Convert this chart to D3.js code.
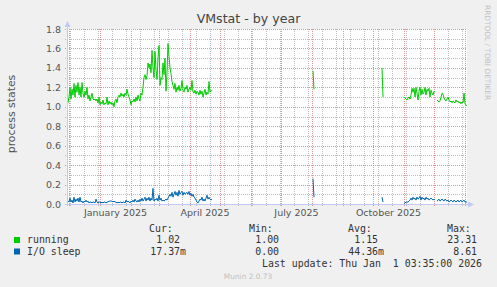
<!DOCTYPE html>
<html>
<head>
<meta charset="utf-8">
<script src="https://cdn.jsdelivr.net/npm/d3@7"></script>
<style>
body { margin: 0; background: #f0f0f0; }
svg { display: block; }
text { white-space: pre; }
</style>
</head>
<body>
<svg id="chart" width="497" height="287"></svg>
<script>
// time axis: 400 days, one value per day (day offset from axis start)
const startTime = Date.UTC(2024, 10, 29)
const DAY = 864e5
const spanDays = 400

// first block of data, one value per day starting at day 1
const firstDay = 1
const running1 = [
	1.04, 1.10, 1.20, 1.08, 1.18, 1.12, 1.24, 1.10, 1.22, 1.15,
	1.25, 1.12, 1.20, 1.10, 1.25, 1.14, 1.10, 1.16, 1.12, 1.20,
	1.08, 1.12, 1.06, 1.10, 1.14, 1.08, 1.07, 1.08, 1.06, 1.08,
	1.04, 1.10, 1.02, 1.05, 1.03, 1.07, 1.02, 1.04, 1.03, 1.10,
	1.02, 1.06, 1.03, 1.05, 1.02, 1.04, 1.00, 1.06, 1.08, 1.04,
	1.10, 1.12, 1.10, 1.14, 1.11, 1.13, 1.10, 1.14, 1.12, 1.18,
	1.13, 1.10, 1.07, 1.02, 1.06, 1.05, 1.08, 1.05, 1.10, 1.06,
	1.12, 1.08, 1.06, 1.14, 1.12, 1.20, 1.30, 1.33, 1.28, 1.32,
	1.45, 1.40, 1.44, 1.35, 1.58, 1.40, 1.30, 1.57, 1.38, 1.28,
	1.50, 1.63, 1.22, 1.30, 1.28, 1.45, 1.33, 1.50, 1.16, 1.35,
	1.65, 1.52, 1.40, 1.34, 1.26, 1.22, 1.18, 1.24, 1.15, 1.20,
	1.17, 1.22, 1.16, 1.19, 1.27, 1.17, 1.15, 1.20, 1.18, 1.22,
	1.15, 1.18, 1.20, 1.17, 1.27, 1.15, 1.14, 1.17, 1.13, 1.16,
	1.15, 1.12, 1.17, 1.13, 1.16, 1.10, 1.14, 1.18, 1.12, 1.15,
	1.13, 1.26, 1.15, 1.17, 1.16
]
const io1 = [
	0.03, 0.02, 0.06, 0.02, 0.04, 0.01, 0.07, 0.02, 0.05, 0.03,
	0.06, 0.02, 0.07, 0.02, 0.03, 0.01, 0.03, 0.02, 0.04, 0.02,
	0.03, 0.01, 0.02, 0.02, 0.01, 0.02, 0.02, 0.01, 0.05, 0.02,
	0.01, 0.02, 0.02, 0.01, 0.02, 0.01, 0.02, 0.02, 0.01, 0.02,
	0.02, 0.03, 0.03, 0.03, 0.03, 0.02, 0.03, 0.02, 0.02, 0.01,
	0.02, 0.01, 0.02, 0.02, 0.01, 0.02, 0.02, 0.01, 0.04, 0.02,
	0.03, 0.02, 0.01, 0.03, 0.02, 0.04, 0.02, 0.05, 0.03, 0.02,
	0.04, 0.02, 0.05, 0.03, 0.06, 0.03, 0.05, 0.07, 0.03, 0.06,
	0.04, 0.07, 0.03, 0.06, 0.04, 0.16, 0.03, 0.05, 0.04, 0.06,
	0.03, 0.09, 0.04, 0.06, 0.03, 0.04, 0.03, 0.04, 0.05, 0.04,
	0.06, 0.08, 0.10, 0.08, 0.12, 0.07, 0.10, 0.13, 0.09, 0.12,
	0.08, 0.14, 0.10, 0.12, 0.13, 0.09, 0.12, 0.10, 0.11, 0.12,
	0.10, 0.13, 0.09, 0.11, 0.08, 0.10, 0.07, 0.06, 0.04, 0.02,
	0.01, 0.03, 0.05, 0.04, 0.07, 0.03, 0.05, 0.03, 0.06, 0.09,
	0.05, 0.07, 0.05, 0.04, 0.05
]

// two short isolated bursts
const spikeDays = [[246, 247], [315, 316]]
const runningSpikes = [[1.37, 1.18], [1.40, 1.10]]
const ioSpikes = [[0.26, 0.07], [0.07, 0.02]]

// last block, one value per day, null = missing
const lastDay = 337
const running3 = [
	1.10, 1.09, 1.08, 1.07, 1.09, 1.10, 1.08, 1.12, 1.19, 1.15,
	1.19, 1.10, 1.20, 1.14, 1.07, 1.16, 1.20, 1.12, 1.18, 1.13,
	1.15, 1.20, 1.12, 1.18, 1.16, 1.19, 1.10, 1.17, 1.14, 1.12,
	1.16, 1.15, null, 1.07, 1.06, 1.05, 1.06, 1.10, 1.14, 1.13,
	1.09, 1.07, 1.06, 1.08, 1.10, 1.07, 1.05, 1.06, 1.04, 1.06,
	1.05, 1.04, 1.07, 1.05, 1.06, 1.04, 1.05, 1.03, 1.05, 1.04,
	1.14, 1.03, 1.02, 1.01
]
const io3 = [
	0.01, 0.01, 0.02, 0.02, 0.02, 0.03, 0.04, 0.06, 0.04, 0.07,
	0.05, 0.06, 0.04, 0.07, 0.05, 0.06, 0.08, 0.04, 0.07, 0.05,
	0.06, 0.04, 0.07, 0.05, 0.06, 0.04, 0.05, 0.06, 0.05, 0.04,
	0.05, 0.04, null, 0.03, 0.04, 0.05, 0.03, 0.04, 0.05, 0.04,
	0.03, 0.05, 0.04, 0.03, 0.04, 0.02, 0.03, 0.04, 0.03, 0.02,
	0.04, 0.03, 0.02, 0.03, 0.04, 0.02, 0.03, 0.04, 0.02, 0.03,
	0.04, 0.02, 0.02, 0.02
]

const yTicks = [0, 0.2, 0.4, 0.6, 0.8, 1.0, 1.2, 1.4, 1.6, 1.8]
const monthLabels = [[2025, 0], [2025, 3], [2025, 6], [2025, 9]]

const seriesNames = ["running", "I/O sleep"]
const seriesColors = ["#00cc00", "#0066b3"]
const curVals = [["1.02", " "], ["17.37", "m"]]
const minVals = [["1.00", " "], ["0.00", " "]]
const avgVals = [["1.15", " "], ["44.36", "m"]]
const maxVals = [["23.31", " "], ["8.61", " "]]

// build point lists with gaps between blocks
function series(block1, spikes, block3) {
	var pts = block1.map((v, i) => ({d: firstDay + i, v: v}))
	spikes.forEach((s, k) => {
		pts.push({d: spikeDays[k][0] - 1, v: null})
		s.forEach((v, j) => pts.push({d: spikeDays[k][j], v: v}))
	})
	pts.push({d: lastDay - 1, v: null})
	block3.forEach((v, i) => pts.push({d: lastDay + i, v: v}))
	return pts
}
var running = series(running1, runningSpikes, running3)
var iosleep = series(io1, ioSpikes, io3)

var svg = d3.select("#chart"),
	pL = 67, pR = 467, pT = 29, pB = 204

svg.append("rect").attr("width", 497).attr("height", 287).attr("fill", "#f0f0f0")
svg.append("rect")
	.attr("x", pL).attr("y", pT)
	.attr("width", pR - pL).attr("height", pB - pT)
	.attr("fill", "#ffffff")

var x = d3.scaleUtc()
	.domain([new Date(startTime), new Date(startTime + spanDays * DAY)])
	.range([pL, pR])
var y = d3.scaleLinear().domain([0, 1.8]).range([pB, pT])
var xd = d => x(new Date(startTime + d * DAY))

var grid = svg.append("g").attr("shape-rendering", "crispEdges")
var minorColor = "#bdbdbd", majorColor = "#e39393"

// minor grid
var minorY = d3.range(1, 18, 2).map(i => i / 10)
grid.selectAll(".hmin").data(minorY).enter().append("line")
	.attr("x1", pL - 2).attr("x2", pR)
	.attr("y1", d => Math.round(y(d)) + 0.5).attr("y2", d => Math.round(y(d)) + 0.5)
	.attr("stroke", minorColor).attr("stroke-dasharray", "1,1")
var weeks = d3.utcMonday.every(2).range(x.domain()[0], x.domain()[1])
grid.selectAll(".vmin").data(weeks).enter().append("line")
	.attr("x1", d => Math.round(x(d)) + 0.5).attr("x2", d => Math.round(x(d)) + 0.5)
	.attr("y1", pT).attr("y2", pB + 2)
	.attr("stroke", minorColor).attr("stroke-dasharray", "1,1")

// major grid
grid.selectAll(".hmaj").data(yTicks.slice(1)).enter().append("line")
	.attr("x1", pL - 2).attr("x2", pR)
	.attr("y1", d => Math.round(y(d)) + 0.5).attr("y2", d => Math.round(y(d)) + 0.5)
	.attr("stroke", majorColor).attr("stroke-dasharray", "1,1")
var months = d3.utcMonth.range(x.domain()[0], x.domain()[1])
grid.selectAll(".vmaj").data(months).enter().append("line")
	.attr("x1", d => Math.round(x(d)) + 0.5).attr("x2", d => Math.round(x(d)) + 0.5)
	.attr("y1", pT).attr("y2", pB + 2)
	.attr("stroke", majorColor).attr("stroke-dasharray", "1,1")

// y tick labels
svg.append("g").selectAll("text").data(yTicks).enter().append("text")
	.attr("x", 61).attr("y", d => y(d) + 3.5)
	.attr("text-anchor", "end")
	.attr("font-family", "DejaVu Sans").attr("font-size", 9.5).attr("fill", "#555")
	.text(d => d.toFixed(1))

// x labels, centred half a month after the month start
svg.append("g").selectAll("text").data(monthLabels).enter().append("text")
	.attr("x", d => (x(new Date(Date.UTC(d[0], d[1], 1))) + x(new Date(Date.UTC(d[0], d[1] + 1, 1)))) / 2)
	.attr("y", 215.5)
	.attr("text-anchor", "middle")
	.attr("font-family", "DejaVu Sans").attr("font-size", 9.5).attr("fill", "#555")
	.text(d => d3.utcFormat("%B %Y")(new Date(Date.UTC(d[0], d[1], 1))))

// lines
var line = d3.line().defined(d => d.v != null).x(d => xd(d.d)).y(d => y(d.v))
svg.append("path").datum(running)
	.attr("d", line).attr("fill", "none")
	.attr("stroke", seriesColors[0]).attr("stroke-width", 1)
svg.append("path").datum(iosleep)
	.attr("d", line).attr("fill", "none")
	.attr("stroke", seriesColors[1]).attr("stroke-width", 1)

// axes with arrows
var axisColor = "#c4c8f2"
svg.append("line").attr("x1", pL + 0.5).attr("x2", pL + 0.5).attr("y1", pB + 2).attr("y2", pT - 3)
	.attr("stroke", axisColor)
svg.append("line").attr("x1", pL - 2).attr("x2", pR + 3).attr("y1", pB + 0.5).attr("y2", pB + 0.5)
	.attr("stroke", axisColor)
svg.append("path").attr("d", `M${pL - 2.5},${pT - 2}L${pL + 3.5},${pT - 2}L${pL + 0.5},${pT - 8}Z`)
	.attr("fill", axisColor)
svg.append("path").attr("d", `M${pR + 1},${pB - 2.5}L${pR + 1},${pB + 3.5}L${pR + 7},${pB + 0.5}Z`)
	.attr("fill", axisColor)

// titles
svg.append("text").attr("x", 248.5).attr("y", 23)
	.attr("text-anchor", "middle")
	.attr("font-family", "DejaVu Sans").attr("font-size", 12.6).attr("fill", "#444")
	.text("VMstat - by year")
svg.append("text")
	.attr("transform", "translate(15,114) rotate(-90)")
	.attr("text-anchor", "middle")
	.attr("font-family", "DejaVu Sans").attr("font-size", 10.9).attr("fill", "#555")
	.text("process states")
svg.append("text")
	.attr("transform", "translate(485,5) rotate(90)")
	.attr("font-family", "DejaVu Sans").attr("font-size", 7.4).attr("fill", "#c0c0c0")
	.text("RRDTOOL / TOBI OETIKER")

// legend
var mono = "DejaVu Sans Mono", fs = 9.9
var heads = [["Cur:", 149], ["Min:", 249], ["Avg:", 348], ["Max:", 447]]
svg.append("g").selectAll("text").data(heads).enter().append("text")
	.attr("x", d => d[1]).attr("y", 231.5)
	.attr("font-family", mono).attr("font-size", fs).attr("fill", "#333")
	.text(d => d[0])

var cols = [curVals, minVals, avgVals, maxVals], colEnds = [186, 285, 384, 483]
seriesNames.forEach((name, i) => {
	var by = 243 + i * 11.5
	svg.append("rect").attr("x", 14).attr("y", by - 6).attr("width", 6).attr("height", 6)
		.attr("fill", seriesColors[i])
	svg.append("text").attr("x", 27).attr("y", by)
		.attr("font-family", mono).attr("font-size", fs).attr("fill", "#333")
		.text(name)
	cols.forEach((c, j) => {
		svg.append("text").attr("x", colEnds[j]).attr("y", by)
			.attr("text-anchor", "end")
			.attr("font-family", mono).attr("font-size", fs).attr("fill", "#333")
			.text(c[i][0] + c[i][1])
	})
})
svg.append("text").attr("x", 482).attr("y", 266.5)
	.attr("text-anchor", "end")
	.attr("font-family", mono).attr("font-size", fs).attr("fill", "#333")
	.text("Last update: Thu Jan  1 03:35:00 2026")
svg.append("text").attr("x", 248).attr("y", 279)
	.attr("text-anchor", "middle")
	.attr("font-family", "DejaVu Sans").attr("font-size", 7.4).attr("fill", "#c0c0c0")
	.text("Munin 2.0.73")
</script>
</body>
</html>
